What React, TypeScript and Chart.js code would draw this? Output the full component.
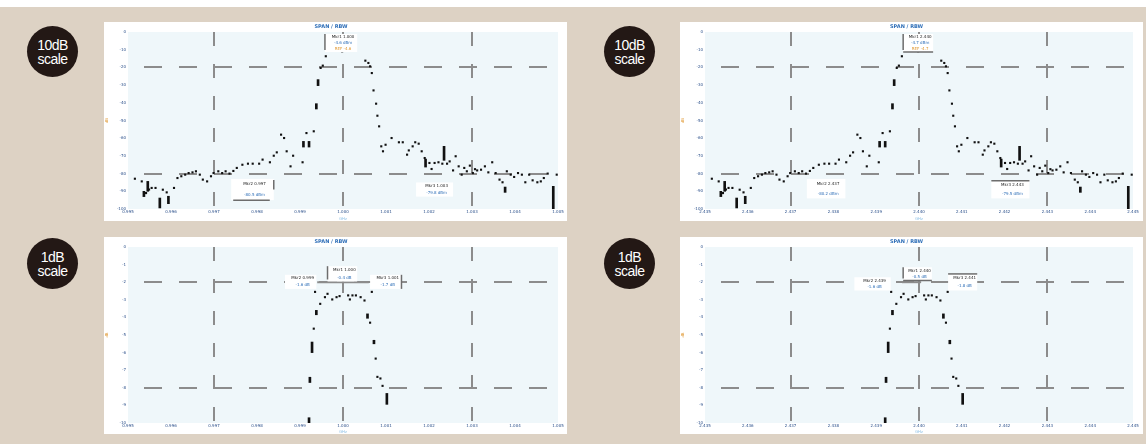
import React, { useEffect, useRef } from "react";
import { Chart, registerables } from "chart.js";

Chart.register(...registerables);

// ---------- data ----------
// x in screen divisions (0..10), levels in dB
const xTickLabelsLeft = ["0.995", "0.996", "0.997", "0.998", "0.999", "1.000", "1.001", "1.002", "1.003", "1.004", "1.005"];
const xTickLabelsRight = ["2.435", "2.436", "2.437", "2.438", "2.439", "2.440", "2.441", "2.442", "2.443", "2.444", "2.445"];
const yTickLabels10 = ["-100", "-90", "-80", "-70", "-60", "-50", "-40", "-30", "-20", "-10", "0"];
const yTickLabels1 = ["-10", "-9", "-8", "-7", "-6", "-5", "-4", "-3", "-2", "-1", "0"];

const wideX = [0.16, 0.32, 0.42, 0.49, 0.55, 0.64, 0.81, 0.9, 1.07, 1.15, 1.24, 1.33, 1.41, 1.5, 1.58, 1.67, 1.74, 1.84, 1.93, 1.99, 2.1, 2.19, 2.27, 2.36, 2.45, 2.53, 2.66, 2.79, 2.9, 3.05, 3.13, 3.3, 3.39, 3.46, 3.56, 3.63, 3.69, 3.78, 3.84, 4.06, 4.15, 4.32, 4.48, 4.53, 4.6, 4.72, 4.98, 5.11, 5.52, 5.59, 5.63, 5.67, 5.71, 5.77, 5.8, 5.84, 5.89, 5.93, 5.99, 6.13, 6.3, 6.39, 6.49, 6.53, 6.62, 6.68, 6.76, 6.83, 6.9, 7.01, 7.06, 7.13, 7.22, 7.31, 7.42, 7.48, 7.56, 7.62, 7.69, 7.76, 7.82, 7.88, 7.95, 8.02, 8.07, 8.12, 8.21, 8.3, 8.38, 8.47, 8.55, 8.64, 8.71, 8.81, 8.9, 8.98, 9.07, 9.16, 9.24, 9.33, 9.41, 9.52, 9.6, 9.67, 9.76, 9.97];
const wideLevel = [-82.9, -84.4, -91, -89, -88.1, -88.1, -89.1, -90.6, -88.1, -82.5, -81.5, -80.6, -79.7, -79.3, -78.7, -80.6, -83.4, -84.4, -81.5, -79.7, -78.7, -79.7, -78.7, -80.0, -78.5, -76.8, -75.0, -74.4, -74.4, -74.4, -72.1, -73.6, -69.9, -68.0, -58.0, -59.9, -67.4, -75.9, -69.9, -73.6, -57.1, -56.1, -20.3, -19.0, -13.7, -8.1, -10.9, -10.0, -16.2, -17.5, -19.4, -23.2, -33.0, -40.5, -47.3, -53.3, -64.6, -67.4, -63.7, -59.9, -62.3, -62.3, -69.3, -66.9, -64.6, -62.3, -63.1, -67.4, -71.2, -74.0, -77.4, -74.0, -73.6, -74.4, -74.4, -73.1, -78.2, -70.2, -75.9, -80.6, -76.8, -78.7, -75.5, -79.7, -77.5, -78.2, -77.8, -75.9, -79.3, -73.6, -79.7, -83.4, -84.9, -78.7, -80.6, -81.9, -79.7, -80.6, -84.9, -80.6, -83.8, -84.9, -84.4, -82.5, -80.0, -80.6];
const wideBarX = [0.37, 0.46, 0.74, 0.94, 4.08, 4.21, 4.38, 4.42, 6.92, 7.35, 8.77, 9.89];
const wideBarLow = [-93, -90, -99.4, -97, -65, -65, -43.5, -30.3, -76.3, -72.5, -90.6, -100];
const wideBarHigh = [-90, -84.4, -93.8, -92.8, -61.8, -61.8, -40.5, -26.9, -71.8, -64.6, -87.6, -87.2];

const fineX = [4.32, 4.35, 4.47, 4.58, 4.64, 4.75, 4.85, 4.92, 5.12, 5.16, 5.22, 5.3, 5.41, 5.5, 5.63, 5.67, 5.76, 5.8, 5.87, 5.92];
const fineLevel = [-4.64, -2.55, -3.23, -2.85, -2.66, -2.98, -2.85, -2.79, -2.75, -2.98, -2.75, -2.75, -2.85, -3.04, -4.3, -2.55, -6.34, -7.38, -7.47, -7.89];
const fineBarX = [4.21, 4.23, 4.28, 4.38, 5.57, 5.72, 6.02];
const fineBarLow = [-10, -7.7, -6.0, -3.85, -4.05, -5.5, -8.94];
const fineBarHigh = [-9.7, -7.4, -5.4, -3.6, -3.8, -5.3, -8.32];

// marker read-outs: anchor (x0..x1, y0..y1 in data units) and text
type Box = { x0: number; x1: number; y0: number; y1: number; lines: string[]; bracket?: string; line?: number[] };

const boxesTL: Box[] = [
  { x0: 4.58, x1: 5.33, y0: -1.1, y1: -11.3, lines: ["Mkr1 1.000", "-4.6 dBm", "REF -4.6"], bracket: "left" },
  { x0: 2.4, x1: 3.39, y0: -83, y1: -95, lines: ["Mkr2 0.997", "-80.5 dBm"], bracket: "under" },
  { x0: 6.7, x1: 7.56, y0: -85, y1: -93, lines: ["Mkr3 1.003", "-79.8 dBm"] },
];
const boxesTR: Box[] = [
  { x0: 4.63, x1: 5.33, y0: -1.1, y1: -11.3, lines: ["Mkr1 2.440", "-4.7 dBm", "REF -4.7"], bracket: "leftBottom" },
  { x0: 2.38, x1: 3.28, y0: -83, y1: -94, lines: ["Mkr2 2.437", "-80.2 dBm"] },
  { x0: 6.69, x1: 7.58, y0: -84, y1: -94, lines: ["Mkr3 2.443", "-79.5 dBm"], bracket: "top" },
];
const boxesBL: Box[] = [
  { x0: 4.64, x1: 5.33, y0: -1.09, y1: -1.96, lines: ["Mkr1 1.000", "-0.4 dB"], bracket: "left", line: [4.4, 5.6, -2] },
  { x0: 3.65, x1: 4.38, y0: -1.58, y1: -2.38, lines: ["Mkr2 0.999", "-1.6 dB"] },
  { x0: 5.63, x1: 6.36, y0: -1.58, y1: -2.38, lines: ["Mkr3 1.001", "-1.7 dB"], bracket: "right" },
];
const boxesBR: Box[] = [
  { x0: 4.63, x1: 5.3, y0: -1.15, y1: -1.9, lines: ["Mkr1 2.440", "-0.5 dB"], bracket: "leftBottom", line: [4.6, 5.05, -2] },
  { x0: 3.49, x1: 4.34, y0: -1.72, y1: -2.47, lines: ["Mkr2 2.439", "-1.6 dB"] },
  { x0: 5.68, x1: 6.36, y0: -1.53, y1: -2.47, lines: ["Mkr3 2.441", "-1.8 dB"], bracket: "top" },
];

// ---------- plugins ----------
const plotBg = {
  id: "plotBg",
  beforeDraw(chart: any) {
    const { ctx, chartArea: a } = chart;
    ctx.save();
    ctx.fillStyle = "#eff7fa";
    ctx.fillRect(a.left, a.top, a.right - a.left, a.bottom - a.top);
    ctx.restore();
  },
};

const lineColors = ["#1d1d1d", "#2f6fb8", "#e0962e"];

const markerBoxes = {
  id: "markerBoxes",
  afterDatasetsDraw(chart: any, _args: any, opts: any) {
    const boxes: Box[] = opts.boxes || [];
    const { ctx, scales } = chart;
    const xs = scales.x;
    const ys = scales.y;
    ctx.save();
    for (const b of boxes) {
      const l = xs.getPixelForValue(b.x0);
      const r = xs.getPixelForValue(b.x1);
      const t = ys.getPixelForValue(b.y0);
      const bt = ys.getPixelForValue(b.y1);
      if (b.line) {
        ctx.strokeStyle = "#8c8c8c";
        ctx.lineWidth = 2;
        ctx.beginPath();
        const yy = ys.getPixelForValue(b.line[2]);
        ctx.moveTo(xs.getPixelForValue(b.line[0]), yy);
        ctx.lineTo(xs.getPixelForValue(b.line[1]), yy);
        ctx.stroke();
      }
      ctx.fillStyle = "#ffffff";
      ctx.fillRect(l, t, r - l, bt - t);
      ctx.font = "4px 'DejaVu Sans'";
      ctx.textAlign = "center";
      ctx.textBaseline = "middle";
      const n = b.lines.length;
      const step = (bt - t) / n;
      b.lines.forEach((s, i) => {
        ctx.fillStyle = lineColors[i % lineColors.length];
        ctx.fillText(s, (l + r) / 2 + 2, t + step * (i + 0.5));
      });
      ctx.strokeStyle = "#6d6d6d";
      ctx.lineWidth = 1.5;
      ctx.beginPath();
      if (b.bracket === "left" || b.bracket === "leftBottom") {
        ctx.moveTo(l, t);
        ctx.lineTo(l, bt - 2);
      }
      if (b.bracket === "leftBottom") {
        ctx.moveTo(l, bt);
        ctx.lineTo(r, bt);
      }
      if (b.bracket === "under") {
        ctx.moveTo(l + 2, bt);
        ctx.lineTo(r - 4, bt);
        ctx.moveTo(r, t + 1);
        ctx.lineTo(r, t + (bt - t) * 0.5);
      }
      if (b.bracket === "top") {
        ctx.moveTo(l, t);
        ctx.lineTo(r, t);
      }
      if (b.bracket === "right") {
        ctx.moveTo(r, t);
        ctx.lineTo(r, bt);
      }
      ctx.stroke();
    }
    ctx.restore();
  },
};

// ---------- panels ----------
type Spec = {
  left: number; top: number; w: number; h: number; yw: number; xh: number; padRight: number;
  xs: number[]; ys: number[]; bx: number[]; blo: number[]; bhi: number[];
  yMin: number; yMax: number; step: number; yLabels: string[]; xLabels: string[];
  boxes: Box[]; badge: string;
};

const GRID = "#8c8c8c";

function makeConfig(s: Spec): any {
  const lo20 = s.yMin + (s.yMax - s.yMin) * 0.2;
  const hi20 = s.yMin + (s.yMax - s.yMin) * 0.8;
  return {
    type: "scatter",
    data: {
      datasets: [
        {
          type: "scatter",
          data: s.xs.map((x, i) => ({ x, y: s.ys[i] })),
          pointStyle: "rect",
          radius: 1.5,
          borderWidth: 0,
          backgroundColor: "#111111",
          order: 1,
        },
        {
          type: "bar",
          data: s.bx.map((x, i) => ({ x, y: [s.blo[i], s.bhi[i]] })),
          backgroundColor: "#111111",
          barThickness: 2,
          grouped: false,
          order: 2,
        },
      ],
    },
    options: {
      responsive: false,
      animation: false,
      events: [],
      layout: { padding: { left: 0, right: s.padRight, top: 0, bottom: 0 } },
      plugins: {
        legend: { display: false },
        tooltip: { enabled: false },
        title: {
          display: true,
          text: "SPAN / RBW",
          color: "#2f6fb8",
          font: { size: 5, family: "'DejaVu Sans'" },
          padding: { top: 2, bottom: 2 },
        },
        markerBoxes: { boxes: s.boxes },
      },
      scales: {
        x: {
          type: "linear",
          min: 0,
          max: 10,
          offset: false,
          afterFit: (sc: any) => { sc.height = s.xh; },
          ticks: {
            stepSize: 1,
            autoSkip: false,
            maxRotation: 0,
            padding: 1,
            color: "#2a4f8a",
            font: { size: 4, family: "'DejaVu Sans'" },
            callback: (_v: any, i: number) => s.xLabels[i],
          },
          grid: {
            offset: false,
            drawTicks: false,
            lineWidth: 2,
            color: (c: any) => (c.tick && [2, 5, 8].includes(c.tick.value) ? GRID : "rgba(0,0,0,0)"),
          },
          border: { display: false, dash: [14, 18], dashOffset: 0 },
          title: { display: true, text: "GHz", color: "#8fc1e6", font: { size: 4 }, padding: 0 },
        },
        y: {
          type: "linear",
          min: s.yMin,
          max: s.yMax,
          offset: false,
          afterFit: (sc: any) => { sc.width = s.yw; },
          ticks: {
            stepSize: s.step,
            autoSkip: false,
            padding: 2,
            color: "#2a4f8a",
            font: { size: 4, family: "'DejaVu Sans'" },
            callback: (_v: any, i: number) => s.yLabels[i],
          },
          grid: {
            offset: false,
            drawTicks: false,
            lineWidth: 2,
            color: (c: any) =>
              c.tick && (Math.abs(c.tick.value - lo20) < 1e-6 || Math.abs(c.tick.value - hi20) < 1e-6) ? GRID : "rgba(0,0,0,0)",
          },
          border: { display: false, dash: [18, 17], dashOffset: 19 },
          title: { display: true, text: "dB", color: "#e0962e", font: { size: 4 }, padding: 0 },
        },
      },
    },
    plugins: [plotBg, markerBoxes],
  };
}

const specs: Spec[] = [
  { left: 104, top: 22, w: 463, h: 199, yw: 24, xh: 12, padRight: 9, xs: wideX, ys: wideLevel, bx: wideBarX, blo: wideBarLow, bhi: wideBarHigh, yMin: -100, yMax: 0, step: 10, yLabels: yTickLabels10, xLabels: xTickLabelsLeft, boxes: boxesTL, badge: "10dB" },
  { left: 680, top: 22, w: 463, h: 199, yw: 25, xh: 12, padRight: 10, xs: wideX, ys: wideLevel, bx: wideBarX, blo: wideBarLow, bhi: wideBarHigh, yMin: -100, yMax: 0, step: 10, yLabels: yTickLabels10, xLabels: xTickLabelsRight, boxes: boxesTR, badge: "10dB" },
  { left: 104, top: 237, w: 463, h: 197, yw: 24, xh: 11, padRight: 9, xs: fineX, ys: fineLevel, bx: fineBarX, blo: fineBarLow, bhi: fineBarHigh, yMin: -10, yMax: 0, step: 1, yLabels: yTickLabels1, xLabels: xTickLabelsLeft, boxes: boxesBL, badge: "1dB" },
  { left: 680, top: 237, w: 463, h: 197, yw: 25, xh: 11, padRight: 10, xs: fineX, ys: fineLevel, bx: fineBarX, blo: fineBarLow, bhi: fineBarHigh, yMin: -10, yMax: 0, step: 1, yLabels: yTickLabels1, xLabels: xTickLabelsRight, boxes: boxesBR, badge: "1dB" },
];

function Panel({ spec }: { spec: Spec }) {
  const ref = useRef<HTMLCanvasElement>(null);
  useEffect(() => {
    const chart = new Chart(ref.current as HTMLCanvasElement, makeConfig(spec));
    return () => chart.destroy();
  }, [spec]);
  return (
    <div style={{ position: "absolute", left: spec.left, top: spec.top, width: spec.w, height: spec.h, background: "#ffffff" }}>
      <canvas ref={ref} width={spec.w} height={spec.h} style={{ display: "block", width: spec.w, height: spec.h }} />
    </div>
  );
}

function Badge({ cx, cy, text }: { cx: number; cy: number; text: string }) {
  return (
    <div
      style={{
        position: "absolute",
        left: cx - 25,
        top: cy - 25,
        width: 51,
        height: 51,
        borderRadius: "50%",
        background: "#231815",
        color: "#ffffff",
        display: "flex",
        flexDirection: "column",
        alignItems: "center",
        justifyContent: "center",
        fontFamily: "'Liberation Sans', Arial, sans-serif",
        fontSize: 14,
        lineHeight: "14px",
        letterSpacing: "-0.5px",
      }}
    >
      <span>{text}</span>
      <span>scale</span>
    </div>
  );
}

export default function App() {
  return (
    <div style={{ position: "absolute", left: 0, top: 0, width: 1146, height: 444, background: "#ddd2c4", overflow: "hidden" }}>
      <div style={{ position: "absolute", left: 0, top: 0, width: 1146, height: 7, background: "#ffffff" }} />
      {specs.map((s, i) => (
        <Panel key={i} spec={s} />
      ))}
      <Badge cx={52} cy={51} text="10dB" />
      <Badge cx={629} cy={51} text="10dB" />
      <Badge cx={52} cy={263} text="1dB" />
      <Badge cx={629} cy={263} text="1dB" />
    </div>
  );
}
